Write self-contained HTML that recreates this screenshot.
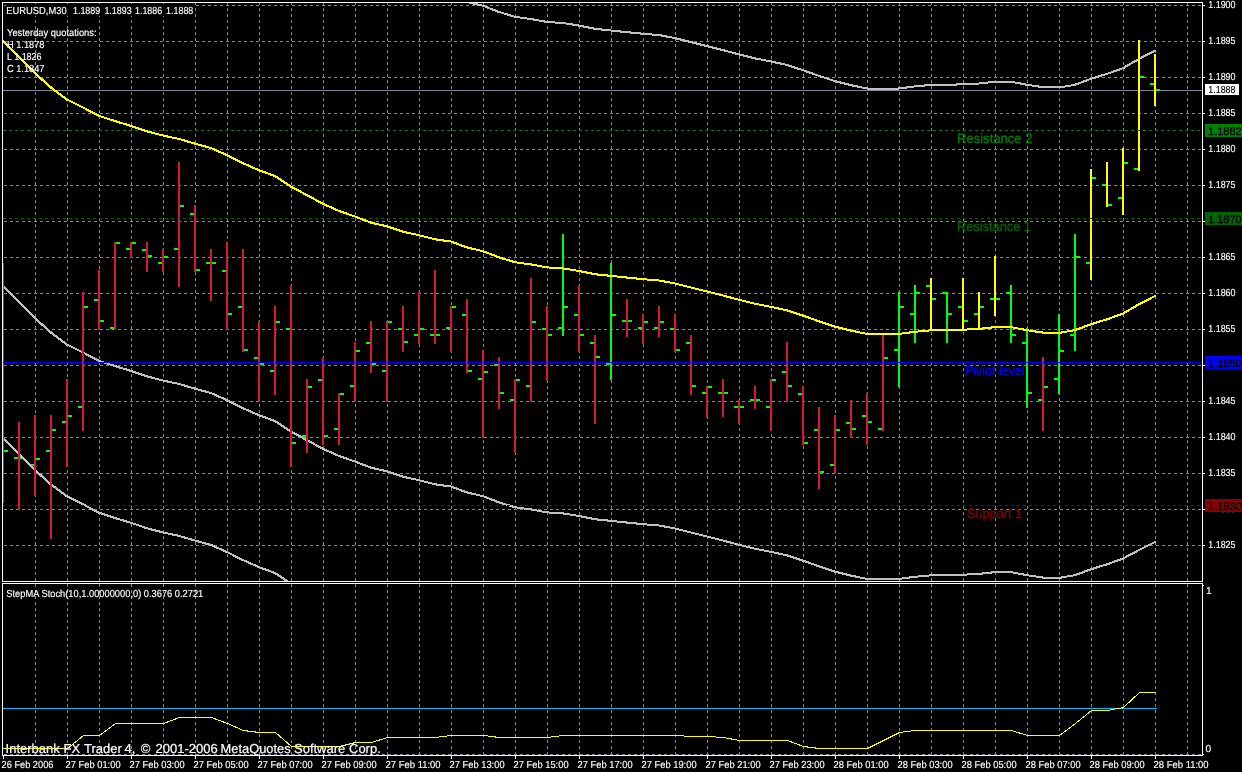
<!DOCTYPE html>
<html lang="en"><head><meta charset="utf-8"><title>EURUSD,M30</title>
<style>
html,body{margin:0;padding:0;background:#000;overflow:hidden}
svg{display:block}
text{font-family:"Liberation Sans",sans-serif;white-space:pre;text-rendering:geometricPrecision}
.s{font-size:10.2px;fill:#fff;stroke:#fff;stroke-width:.15px;text-rendering:geometricPrecision}
.m{font-size:13.6px;stroke-width:.3px}
.b{font-size:11px;fill:#000;stroke:#000;stroke-width:.3px}
</style></head><body>
<svg width="1242" height="772" viewBox="0 0 1242 772">
<rect width="1242" height="772" fill="#000"/>
<defs><clipPath id="cm"><rect x="3" y="3" width="1199" height="578"/></clipPath><clipPath id="cs"><rect x="3" y="584" width="1199" height="171"/></clipPath></defs>
<g stroke="#778899" stroke-width="1" stroke-dasharray="3 3" shape-rendering="crispEdges" fill="none">
<path d="M4 5.5H1202"/>
<path d="M4 41.5H1202"/>
<path d="M4 77.5H1202"/>
<path d="M4 113.5H1202"/>
<path d="M4 149.5H1202"/>
<path d="M4 185.5H1202"/>
<path d="M4 221.5H1202"/>
<path d="M4 257.5H1202"/>
<path d="M4 293.5H1202"/>
<path d="M4 329.5H1202"/>
<path d="M4 365.5H1202"/>
<path d="M4 401.5H1202"/>
<path d="M4 437.5H1202"/>
<path d="M4 473.5H1202"/>
<path d="M4 509.5H1202"/>
<path d="M4 545.5H1202"/>
<path d="M35.5 2V581"/>
<path d="M35.5 584V755"/>
<path d="M67.5 2V581"/>
<path d="M67.5 584V755"/>
<path d="M99.5 2V581"/>
<path d="M99.5 584V755"/>
<path d="M131.5 2V581"/>
<path d="M131.5 584V755"/>
<path d="M163.5 2V581"/>
<path d="M163.5 584V755"/>
<path d="M195.5 2V581"/>
<path d="M195.5 584V755"/>
<path d="M227.5 2V581"/>
<path d="M227.5 584V755"/>
<path d="M259.5 2V581"/>
<path d="M259.5 584V755"/>
<path d="M291.5 2V581"/>
<path d="M291.5 584V755"/>
<path d="M323.5 2V581"/>
<path d="M323.5 584V755"/>
<path d="M355.5 2V581"/>
<path d="M355.5 584V755"/>
<path d="M387.5 2V581"/>
<path d="M387.5 584V755"/>
<path d="M419.5 2V581"/>
<path d="M419.5 584V755"/>
<path d="M451.5 2V581"/>
<path d="M451.5 584V755"/>
<path d="M483.5 2V581"/>
<path d="M483.5 584V755"/>
<path d="M515.5 2V581"/>
<path d="M515.5 584V755"/>
<path d="M547.5 2V581"/>
<path d="M547.5 584V755"/>
<path d="M579.5 2V581"/>
<path d="M579.5 584V755"/>
<path d="M611.5 2V581"/>
<path d="M611.5 584V755"/>
<path d="M643.5 2V581"/>
<path d="M643.5 584V755"/>
<path d="M675.5 2V581"/>
<path d="M675.5 584V755"/>
<path d="M707.5 2V581"/>
<path d="M707.5 584V755"/>
<path d="M739.5 2V581"/>
<path d="M739.5 584V755"/>
<path d="M771.5 2V581"/>
<path d="M771.5 584V755"/>
<path d="M803.5 2V581"/>
<path d="M803.5 584V755"/>
<path d="M835.5 2V581"/>
<path d="M835.5 584V755"/>
<path d="M867.5 2V581"/>
<path d="M867.5 584V755"/>
<path d="M899.5 2V581"/>
<path d="M899.5 584V755"/>
<path d="M931.5 2V581"/>
<path d="M931.5 584V755"/>
<path d="M963.5 2V581"/>
<path d="M963.5 584V755"/>
<path d="M995.5 2V581"/>
<path d="M995.5 584V755"/>
<path d="M1027.5 2V581"/>
<path d="M1027.5 584V755"/>
<path d="M1059.5 2V581"/>
<path d="M1059.5 584V755"/>
<path d="M1091.5 2V581"/>
<path d="M1091.5 584V755"/>
<path d="M1123.5 2V581"/>
<path d="M1123.5 584V755"/>
<path d="M1155.5 2V581"/>
<path d="M1155.5 584V755"/>
<path d="M1187.5 2V581"/>
<path d="M1187.5 584V755"/>
<path d="M4 754.5H1202"/>
</g>
<path d="M3 90.5H1202" stroke="#778899" stroke-width="1" shape-rendering="crispEdges"/>
<g shape-rendering="crispEdges" clip-path="url(#cm)">
<path fill="#00FF00" d="M4 450h4v2h-4zM14 457h4v2h-4zM20 457h4v2h-4zM30 464h4v2h-4zM36 458h4v2h-4zM46 450h4v2h-4zM52 429h4v2h-4zM62 421h4v2h-4zM68 415h4v2h-4zM78 406h4v2h-4zM84 306h4v2h-4zM94 299h4v2h-4zM100 320h4v2h-4zM110 327h4v2h-4zM116 242h4v2h-4zM126 248h4v2h-4zM132 242h4v2h-4zM142 249h4v2h-4zM148 255h4v2h-4zM158 262h4v2h-4zM164 256h4v2h-4zM174 248h4v2h-4zM180 205h4v2h-4zM190 213h4v2h-4zM196 269h4v2h-4zM206 262h4v2h-4zM212 262h4v2h-4zM222 270h4v2h-4zM228 313h4v2h-4zM238 306h4v2h-4zM244 349h4v2h-4zM254 357h4v2h-4zM260 363h4v2h-4zM270 370h4v2h-4zM276 321h4v2h-4zM286 328h4v2h-4zM292 442h4v2h-4zM302 435h4v2h-4zM308 386h4v2h-4zM318 379h4v2h-4zM324 435h4v2h-4zM334 428h4v2h-4zM340 393h4v2h-4zM350 385h4v2h-4zM356 350h4v2h-4zM366 342h4v2h-4zM372 363h4v2h-4zM382 370h4v2h-4zM388 321h4v2h-4zM398 328h4v2h-4zM404 341h4v2h-4zM414 334h4v2h-4zM420 328h4v2h-4zM430 334h4v2h-4zM436 334h4v2h-4zM446 327h4v2h-4zM452 306h4v2h-4zM462 314h4v2h-4zM468 370h4v2h-4zM478 378h4v2h-4zM484 371h4v2h-4zM494 364h4v2h-4zM500 392h4v2h-4zM510 399h4v2h-4zM516 379h4v2h-4zM526 385h4v2h-4zM532 321h4v2h-4zM542 328h4v2h-4zM548 334h4v2h-4zM558 327h4v2h-4zM564 306h4v2h-4zM574 314h4v2h-4zM580 334h4v2h-4zM590 342h4v2h-4zM596 356h4v2h-4zM606 363h4v2h-4zM612 314h4v2h-4zM622 320h4v2h-4zM628 320h4v2h-4zM638 327h4v2h-4zM644 321h4v2h-4zM654 327h4v2h-4zM660 321h4v2h-4zM670 328h4v2h-4zM676 349h4v2h-4zM686 342h4v2h-4zM692 385h4v2h-4zM702 392h4v2h-4zM708 386h4v2h-4zM718 392h4v2h-4zM724 392h4v2h-4zM734 406h4v2h-4zM740 406h4v2h-4zM750 399h4v2h-4zM756 399h4v2h-4zM766 406h4v2h-4zM772 379h4v2h-4zM782 371h4v2h-4zM788 385h4v2h-4zM798 393h4v2h-4zM804 442h4v2h-4zM814 429h4v2h-4zM820 471h4v2h-4zM830 464h4v2h-4zM836 429h4v2h-4zM846 422h4v2h-4zM852 428h4v2h-4zM862 415h4v2h-4zM868 421h4v2h-4zM878 428h4v2h-4zM884 357h4v2h-4zM894 349h4v2h-4zM900 306h4v2h-4zM910 313h4v2h-4zM916 292h4v2h-4zM926 285h4v2h-4zM932 298h4v2h-4zM942 292h4v2h-4zM948 313h4v2h-4zM958 306h4v2h-4zM964 320h4v2h-4zM974 313h4v2h-4zM980 306h4v2h-4zM990 298h4v2h-4zM996 298h4v2h-4zM1006 292h4v2h-4zM1012 334h4v2h-4zM1022 342h4v2h-4zM1028 392h4v2h-4zM1038 399h4v2h-4zM1044 386h4v2h-4zM1054 378h4v2h-4zM1060 350h4v2h-4zM1070 334h4v2h-4zM1076 256h4v2h-4zM1086 262h4v2h-4zM1092 177h4v2h-4zM1102 184h4v2h-4zM1108 204h4v2h-4zM1118 197h4v2h-4zM1124 162h4v2h-4zM1134 168h4v2h-4zM1140 76h4v2h-4zM1150 83h4v2h-4zM1156 89h4v2h-4z"/>
</g>
<g fill="none" stroke-linecap="round" shape-rendering="crispEdges" clip-path="url(#cm)">
<g stroke="#C0C0C0"><path stroke-width="2.04" d="M435 -6.1L451 -3.85"/><path stroke-width="2.11" d="M451 -3.85L467 2.0"/><path stroke-width="2.07" d="M467 2.0L483 5.78"/><path stroke-width="2.12" d="M483 5.78L499 11.95"/><path stroke-width="2.09" d="M499 11.95L515 16.85"/><path stroke-width="2.04" d="M515 16.85L531 19.05"/><path stroke-width="2.05" d="M531 19.05L547 21.98"/><path stroke-width="2.02" d="M547 21.98L563 23.02"/><path stroke-width="2.05" d="M563 23.02L579 25.58"/><path stroke-width="2.06" d="M579 25.58L595 28.85"/><path stroke-width="2.03" d="M595 28.85L611 30.48"/><path stroke-width="2.03" d="M611 30.48L627 32.18"/><path stroke-width="2.03" d="M627 32.18L643 33.75"/><path stroke-width="2.02" d="M643 33.75L659 35.08"/><path stroke-width="2.06" d="M659 35.08L675 38.08"/><path stroke-width="2.08" d="M675 38.08L691 42.15"/><path stroke-width="2.07" d="M691 42.15L707 46.08"/><path stroke-width="2.08" d="M707 46.08L723 50.12"/><path stroke-width="2.08" d="M723 50.12L739 54.42"/><path stroke-width="2.07" d="M739 54.42L755 58.38"/><path stroke-width="2.06" d="M755 58.38L771 61.45"/><path stroke-width="2.07" d="M771 61.45L787 65.0"/><path stroke-width="2.10" d="M787 65.0L803 70.2"/><path stroke-width="2.11" d="M803 70.2L819 75.9"/><path stroke-width="2.10" d="M819 75.9L835 81.2"/><path stroke-width="2.08" d="M835 81.2L851 85.2"/><path stroke-width="2.06" d="M851 85.2L867 88.5"/><path stroke-width="2.01" d="M867 88.5L883 88.8"/><path stroke-width="2.01" d="M883 88.8L899 88.5"/><path stroke-width="2.04" d="M899 88.5L915 86.4"/><path stroke-width="2.03" d="M915 86.4L931 84.9"/><path stroke-width="2.00" d="M931 84.9L947 84.8"/><path stroke-width="2.01" d="M947 84.8L963 84.3"/><path stroke-width="2.02" d="M963 84.3L979 83.5"/><path stroke-width="2.03" d="M979 83.5L995 81.7"/><path stroke-width="2.00" d="M995 81.7L1011 81.7"/><path stroke-width="2.06" d="M1011 81.7L1027 84.8"/><path stroke-width="2.04" d="M1027 84.8L1043 87.2"/><path stroke-width="2.01" d="M1043 87.2L1059 87.5"/><path stroke-width="2.05" d="M1059 87.5L1075 84.8"/><path stroke-width="2.11" d="M1075 84.8L1091 78.8"/><path stroke-width="2.09" d="M1091 78.8L1107 73.9"/><path stroke-width="2.11" d="M1107 73.9L1123 68.2"/><path stroke-width="2.17" d="M1123 68.2L1139 58.9"/><path stroke-width="2.16" d="M1139 58.9L1155 50.6"/></g>
<g stroke="#C0C0C0"><path stroke-width="2.30" d="M3 285.75L19 302.22"/><path stroke-width="2.30" d="M19 302.22L35 318.22"/><path stroke-width="2.27" d="M35 318.22L51 332.52"/><path stroke-width="2.23" d="M51 332.52L67 344.52"/><path stroke-width="2.15" d="M67 344.52L83 352.48"/><path stroke-width="2.16" d="M83 352.48L99 360.85"/><path stroke-width="2.10" d="M99 360.85L115 366.08"/><path stroke-width="2.09" d="M115 366.08L131 370.92"/><path stroke-width="2.10" d="M131 370.92L147 376.35"/><path stroke-width="2.08" d="M147 376.35L163 380.55"/><path stroke-width="2.06" d="M163 380.55L179 383.98"/><path stroke-width="2.09" d="M179 383.98L195 388.62"/><path stroke-width="2.08" d="M195 388.62L211 393.1"/><path stroke-width="2.13" d="M211 393.1L227 400.12"/><path stroke-width="2.15" d="M227 400.12L243 408.2"/><path stroke-width="2.13" d="M243 408.2L259 415.25"/><path stroke-width="2.11" d="M259 415.25L275 421.08"/><path stroke-width="2.20" d="M275 421.08L291 431.65"/><path stroke-width="2.16" d="M291 431.65L307 440.15"/><path stroke-width="2.16" d="M307 440.15L323 448.9"/><path stroke-width="2.13" d="M323 448.9L339 455.95"/><path stroke-width="2.11" d="M339 455.95L355 461.55"/><path stroke-width="2.11" d="M355 461.55L371 467.65"/><path stroke-width="2.07" d="M371 467.65L387 471.3"/><path stroke-width="2.10" d="M387 471.3L403 476.75"/><path stroke-width="2.06" d="M403 476.75L419 480.2"/><path stroke-width="2.08" d="M419 480.2L435 484.3"/><path stroke-width="2.04" d="M435 484.3L451 486.55"/><path stroke-width="2.11" d="M451 486.55L467 492.4"/><path stroke-width="2.07" d="M467 492.4L483 496.18"/><path stroke-width="2.12" d="M483 496.18L499 502.35"/><path stroke-width="2.09" d="M499 502.35L515 507.25"/><path stroke-width="2.04" d="M515 507.25L531 509.45"/><path stroke-width="2.05" d="M531 509.45L547 512.38"/><path stroke-width="2.02" d="M547 512.38L563 513.42"/><path stroke-width="2.05" d="M563 513.42L579 515.98"/><path stroke-width="2.06" d="M579 515.98L595 519.25"/><path stroke-width="2.03" d="M595 519.25L611 520.88"/><path stroke-width="2.03" d="M611 520.88L627 522.58"/><path stroke-width="2.03" d="M627 522.58L643 524.15"/><path stroke-width="2.02" d="M643 524.15L659 525.48"/><path stroke-width="2.06" d="M659 525.48L675 528.48"/><path stroke-width="2.08" d="M675 528.48L691 532.55"/><path stroke-width="2.07" d="M691 532.55L707 536.48"/><path stroke-width="2.08" d="M707 536.48L723 540.52"/><path stroke-width="2.08" d="M723 540.52L739 544.82"/><path stroke-width="2.07" d="M739 544.82L755 548.78"/><path stroke-width="2.06" d="M755 548.78L771 551.85"/><path stroke-width="2.07" d="M771 551.85L787 555.4"/><path stroke-width="2.10" d="M787 555.4L803 560.6"/><path stroke-width="2.11" d="M803 560.6L819 566.3"/><path stroke-width="2.10" d="M819 566.3L835 571.6"/><path stroke-width="2.08" d="M835 571.6L851 575.6"/><path stroke-width="2.06" d="M851 575.6L867 578.9"/><path stroke-width="2.01" d="M867 578.9L883 579.2"/><path stroke-width="2.01" d="M883 579.2L899 578.9"/><path stroke-width="2.04" d="M899 578.9L915 576.8"/><path stroke-width="2.03" d="M915 576.8L931 575.3"/><path stroke-width="2.00" d="M931 575.3L947 575.2"/><path stroke-width="2.01" d="M947 575.2L963 574.7"/><path stroke-width="2.02" d="M963 574.7L979 573.9"/><path stroke-width="2.03" d="M979 573.9L995 572.1"/><path stroke-width="2.00" d="M995 572.1L1011 572.1"/><path stroke-width="2.06" d="M1011 572.1L1027 575.2"/><path stroke-width="2.04" d="M1027 575.2L1043 577.6"/><path stroke-width="2.01" d="M1043 577.6L1059 577.9"/><path stroke-width="2.05" d="M1059 577.9L1075 575.2"/><path stroke-width="2.11" d="M1075 575.2L1091 569.2"/><path stroke-width="2.09" d="M1091 569.2L1107 564.3"/><path stroke-width="2.11" d="M1107 564.3L1123 558.6"/><path stroke-width="2.16" d="M1123 558.6L1139 550.0"/><path stroke-width="2.15" d="M1139 550.0L1155 542.0"/></g>
<g stroke="#C0C0C0"><path stroke-width="2.30" d="M3 437.65L19 454.12"/><path stroke-width="2.30" d="M19 454.12L35 470.12"/><path stroke-width="2.27" d="M35 470.12L51 484.42"/><path stroke-width="2.23" d="M51 484.42L67 496.42"/><path stroke-width="2.15" d="M67 496.42L83 504.38"/><path stroke-width="2.16" d="M83 504.38L99 512.75"/><path stroke-width="2.10" d="M99 512.75L115 517.98"/><path stroke-width="2.09" d="M115 517.98L131 522.82"/><path stroke-width="2.10" d="M131 522.82L147 528.25"/><path stroke-width="2.08" d="M147 528.25L163 532.45"/><path stroke-width="2.06" d="M163 532.45L179 535.88"/><path stroke-width="2.09" d="M179 535.88L195 540.52"/><path stroke-width="2.08" d="M195 540.52L211 545.0"/><path stroke-width="2.13" d="M211 545.0L227 552.02"/><path stroke-width="2.15" d="M227 552.02L243 560.1"/><path stroke-width="2.13" d="M243 560.1L259 567.15"/><path stroke-width="2.11" d="M259 567.15L275 572.98"/><path stroke-width="2.20" d="M275 572.98L291 583.55"/><path stroke-width="2.16" d="M291 583.55L307 592.05"/></g>
</g>
<g shape-rendering="crispEdges" clip-path="url(#cm)">
<path fill="#DC143C" d="M2 263h2v240h-2zM18 422h2v88h-2zM34 415h2v81h-2zM50 415h2v124h-2zM66 379h2v88h-2zM82 292h2v139h-2zM98 270h2v60h-2zM114 242h2v88h-2zM130 242h2v16h-2zM146 242h2v30h-2zM162 249h2v23h-2zM178 162h2v125h-2zM194 205h2v67h-2zM210 249h2v52h-2zM226 242h2v88h-2zM242 249h2v103h-2zM258 321h2v81h-2zM274 306h2v89h-2zM290 285h2v182h-2zM306 379h2v74h-2zM322 357h2v88h-2zM338 393h2v52h-2zM354 342h2v60h-2zM370 321h2v52h-2zM386 321h2v81h-2zM402 306h2v46h-2zM418 292h2v52h-2zM434 270h2v74h-2zM450 306h2v46h-2zM466 299h2v74h-2zM482 350h2v88h-2zM498 357h2v52h-2zM514 379h2v74h-2zM530 278h2v124h-2zM546 306h2v75h-2zM578 285h2v67h-2zM594 335h2v89h-2zM626 299h2v38h-2zM642 314h2v30h-2zM658 306h2v31h-2zM674 314h2v38h-2zM690 335h2v60h-2zM706 386h2v31h-2zM722 379h2v38h-2zM738 400h2v24h-2zM754 386h2v23h-2zM770 379h2v52h-2zM786 342h2v60h-2zM802 386h2v59h-2zM818 407h2v82h-2zM834 415h2v59h-2zM850 400h2v38h-2zM866 393h2v52h-2zM882 335h2v96h-2zM1042 357h2v74h-2z"/>
<path fill="#00FF00" d="M562 234h2v102h-2zM610 263h2v117h-2zM898 292h2v95h-2zM914 285h2v58h-2zM946 292h2v51h-2zM1010 285h2v58h-2zM1026 328h2v80h-2zM1058 314h2v80h-2zM1074 234h2v117h-2z"/>
<path fill="#FFFF00" d="M930 278h2v53h-2zM962 278h2v53h-2zM978 292h2v38h-2zM994 256h2v60h-2zM1090 169h2v111h-2zM1106 162h2v45h-2zM1122 148h2v67h-2zM1138 40h2v131h-2zM1154 54h2v52h-2z"/>
</g>
<g shape-rendering="crispEdges" fill="none" stroke-width="1">
<path d="M3 130.5H1202" stroke="#008000" stroke-dasharray="3 3"/>
<path d="M3 218.5H1202" stroke="#006400" stroke-dasharray="3 3"/>
<path d="M3 505.5H1202" stroke="#8B0000" stroke-dasharray="3 3"/>
</g>
<path d="M3 362.5H1202" stroke="#0000FF" stroke-width="1" shape-rendering="crispEdges"/>
<g fill="none" stroke-linecap="round" shape-rendering="crispEdges" clip-path="url(#cm)">
<g stroke="#FFFF00"><path stroke-width="2.30" d="M3 40.75L19 57.22"/><path stroke-width="2.30" d="M19 57.22L35 73.22"/><path stroke-width="2.27" d="M35 73.22L51 87.52"/><path stroke-width="2.23" d="M51 87.52L67 99.52"/><path stroke-width="2.15" d="M67 99.52L83 107.48"/><path stroke-width="2.16" d="M83 107.48L99 115.85"/><path stroke-width="2.10" d="M99 115.85L115 121.08"/><path stroke-width="2.09" d="M115 121.08L131 125.92"/><path stroke-width="2.10" d="M131 125.92L147 131.35"/><path stroke-width="2.08" d="M147 131.35L163 135.55"/><path stroke-width="2.06" d="M163 135.55L179 138.98"/><path stroke-width="2.09" d="M179 138.98L195 143.62"/><path stroke-width="2.08" d="M195 143.62L211 148.1"/><path stroke-width="2.13" d="M211 148.1L227 155.12"/><path stroke-width="2.15" d="M227 155.12L243 163.2"/><path stroke-width="2.13" d="M243 163.2L259 170.25"/><path stroke-width="2.11" d="M259 170.25L275 176.08"/><path stroke-width="2.20" d="M275 176.08L291 186.65"/><path stroke-width="2.16" d="M291 186.65L307 195.15"/><path stroke-width="2.16" d="M307 195.15L323 203.9"/><path stroke-width="2.13" d="M323 203.9L339 210.95"/><path stroke-width="2.11" d="M339 210.95L355 216.55"/><path stroke-width="2.11" d="M355 216.55L371 222.65"/><path stroke-width="2.07" d="M371 222.65L387 226.3"/><path stroke-width="2.10" d="M387 226.3L403 231.75"/><path stroke-width="2.06" d="M403 231.75L419 235.2"/><path stroke-width="2.08" d="M419 235.2L435 239.3"/><path stroke-width="2.04" d="M435 239.3L451 241.55"/><path stroke-width="2.11" d="M451 241.55L467 247.4"/><path stroke-width="2.07" d="M467 247.4L483 251.18"/><path stroke-width="2.12" d="M483 251.18L499 257.35"/><path stroke-width="2.09" d="M499 257.35L515 262.25"/><path stroke-width="2.04" d="M515 262.25L531 264.45"/><path stroke-width="2.05" d="M531 264.45L547 267.38"/><path stroke-width="2.02" d="M547 267.38L563 268.42"/><path stroke-width="2.05" d="M563 268.42L579 270.98"/><path stroke-width="2.06" d="M579 270.98L595 274.25"/><path stroke-width="2.03" d="M595 274.25L611 275.88"/><path stroke-width="2.03" d="M611 275.88L627 277.58"/><path stroke-width="2.03" d="M627 277.58L643 279.15"/><path stroke-width="2.02" d="M643 279.15L659 280.48"/><path stroke-width="2.06" d="M659 280.48L675 283.48"/><path stroke-width="2.08" d="M675 283.48L691 287.55"/><path stroke-width="2.07" d="M691 287.55L707 291.48"/><path stroke-width="2.08" d="M707 291.48L723 295.52"/><path stroke-width="2.08" d="M723 295.52L739 299.82"/><path stroke-width="2.07" d="M739 299.82L755 303.78"/><path stroke-width="2.06" d="M755 303.78L771 306.85"/><path stroke-width="2.07" d="M771 306.85L787 310.4"/><path stroke-width="2.10" d="M787 310.4L803 315.6"/><path stroke-width="2.11" d="M803 315.6L819 321.3"/><path stroke-width="2.10" d="M819 321.3L835 326.6"/><path stroke-width="2.08" d="M835 326.6L851 330.6"/><path stroke-width="2.06" d="M851 330.6L867 333.9"/><path stroke-width="2.01" d="M867 333.9L883 334.2"/><path stroke-width="2.01" d="M883 334.2L899 333.9"/><path stroke-width="2.04" d="M899 333.9L915 331.8"/><path stroke-width="2.03" d="M915 331.8L931 330.3"/><path stroke-width="2.00" d="M931 330.3L947 330.2"/><path stroke-width="2.01" d="M947 330.2L963 329.7"/><path stroke-width="2.02" d="M963 329.7L979 328.9"/><path stroke-width="2.03" d="M979 328.9L995 327.1"/><path stroke-width="2.00" d="M995 327.1L1011 327.1"/><path stroke-width="2.06" d="M1011 327.1L1027 330.2"/><path stroke-width="2.05" d="M1027 330.2L1043 332.6"/><path stroke-width="2.01" d="M1043 332.6L1059 332.9"/><path stroke-width="2.05" d="M1059 332.9L1075 330.2"/><path stroke-width="2.11" d="M1075 330.2L1091 324.2"/><path stroke-width="2.09" d="M1091 324.2L1107 319.3"/><path stroke-width="2.11" d="M1107 319.3L1123 313.6"/><path stroke-width="2.17" d="M1123 313.6L1139 304.3"/><path stroke-width="2.16" d="M1139 304.3L1155 296.0"/></g>
</g>
<g fill="none" stroke-width="1" stroke-linecap="square" shape-rendering="crispEdges" clip-path="url(#cs)">
<path d="M3 708.5H1156" stroke="#00BFFF"/>
<polyline stroke="#FFFF00" points="3.5,748.5 19.5,748.5 35.5,748.5 51.5,748.5 67.5,748.5 83.5,735.5 99.5,735.5 115.5,723.5 131.5,723.5 147.5,723.5 163.5,723.5 179.5,717.5 195.5,717.5 211.5,717.5 227.5,723.5 243.5,730.5 259.5,732.5 275.5,732.5 291.5,746.5 307.5,746.5 323.5,746.5 339.5,746.5 355.5,742.5 371.5,742.5 387.5,737.5 403.5,737.5 419.5,737.5 435.5,737.5 451.5,735.5 467.5,735.5 483.5,735.5 499.5,737.5 515.5,737.5 531.5,737.5 547.5,737.5 563.5,735.5 579.5,735.5 595.5,735.5 611.5,735.5 627.5,735.5 643.5,735.5 659.5,735.5 675.5,735.5 691.5,736.5 707.5,736.5 723.5,737.5 739.5,740.5 755.5,740.5 771.5,740.5 787.5,740.5 803.5,746.5 819.5,748.5 835.5,748.5 851.5,748.5 867.5,748.5 883.5,740.5 899.5,732.5 915.5,730.5 931.5,730.5 947.5,730.5 963.5,730.5 979.5,730.5 995.5,730.5 1011.5,730.5 1027.5,735.5 1043.5,735.5 1059.5,735.5 1075.5,723.5 1091.5,710.5 1107.5,710.5 1123.5,707.5 1139.5,692.5 1155.5,692.5"/>
</g>
<g fill="none" stroke="#fff" stroke-width="1" shape-rendering="crispEdges">
<path d="M2.5 581.5V2.5H1202.5V581.5H2.5"/>
<path d="M2.5 755.5V583.5H1202.5V755.5H2.5"/>
<path d="M1203 5.5h2M1203 41.5h2M1203 77.5h2M1203 113.5h2M1203 149.5h2M1203 185.5h2M1203 221.5h2M1203 257.5h2M1203 293.5h2M1203 329.5h2M1203 365.5h2M1203 401.5h2M1203 437.5h2M1203 473.5h2M1203 509.5h2M1203 545.5h2M1203 585.5h1M1203 754.5h1M3.5 756v3M67.5 756v3M131.5 756v3M195.5 756v3M259.5 756v3M323.5 756v3M387.5 756v3M451.5 756v3M515.5 756v3M579.5 756v3M643.5 756v3M707.5 756v3M771.5 756v3M835.5 756v3M899.5 756v3M963.5 756v3M1027.5 756v3M1091.5 756v3M1155.5 756v3"/>
</g>
<g class="s">
<text x="1208.3" y="8" textLength="27.2" lengthAdjust="spacingAndGlyphs">1.1900</text>
<text x="1208.3" y="44" textLength="27.2" lengthAdjust="spacingAndGlyphs">1.1895</text>
<text x="1208.3" y="80" textLength="27.2" lengthAdjust="spacingAndGlyphs">1.1890</text>
<text x="1208.3" y="116" textLength="27.2" lengthAdjust="spacingAndGlyphs">1.1885</text>
<text x="1208.3" y="152" textLength="27.2" lengthAdjust="spacingAndGlyphs">1.1880</text>
<text x="1208.3" y="188" textLength="27.2" lengthAdjust="spacingAndGlyphs">1.1875</text>
<text x="1208.3" y="224" textLength="27.2" lengthAdjust="spacingAndGlyphs">1.1870</text>
<text x="1208.3" y="260" textLength="27.2" lengthAdjust="spacingAndGlyphs">1.1865</text>
<text x="1208.3" y="296" textLength="27.2" lengthAdjust="spacingAndGlyphs">1.1860</text>
<text x="1208.3" y="332" textLength="27.2" lengthAdjust="spacingAndGlyphs">1.1855</text>
<text x="1208.3" y="368" textLength="27.2" lengthAdjust="spacingAndGlyphs">1.1850</text>
<text x="1208.3" y="404" textLength="27.2" lengthAdjust="spacingAndGlyphs">1.1845</text>
<text x="1208.3" y="440" textLength="27.2" lengthAdjust="spacingAndGlyphs">1.1840</text>
<text x="1208.3" y="476" textLength="27.2" lengthAdjust="spacingAndGlyphs">1.1835</text>
<text x="1208.3" y="512" textLength="27.2" lengthAdjust="spacingAndGlyphs">1.1830</text>
<text x="1208.3" y="548" textLength="27.2" lengthAdjust="spacingAndGlyphs">1.1825</text>
<text x="1206" y="594">1</text>
<text x="1205.5" y="752">0</text>
<text x="1.6" y="768" textLength="51.8" lengthAdjust="spacingAndGlyphs">26 Feb 2006</text>
<text x="65.6" y="768" textLength="55" lengthAdjust="spacingAndGlyphs">27 Feb 01:00</text>
<text x="129.6" y="768" textLength="55" lengthAdjust="spacingAndGlyphs">27 Feb 03:00</text>
<text x="193.6" y="768" textLength="55" lengthAdjust="spacingAndGlyphs">27 Feb 05:00</text>
<text x="257.6" y="768" textLength="55" lengthAdjust="spacingAndGlyphs">27 Feb 07:00</text>
<text x="321.6" y="768" textLength="55" lengthAdjust="spacingAndGlyphs">27 Feb 09:00</text>
<text x="385.6" y="768" textLength="55" lengthAdjust="spacingAndGlyphs">27 Feb 11:00</text>
<text x="449.6" y="768" textLength="55" lengthAdjust="spacingAndGlyphs">27 Feb 13:00</text>
<text x="513.6" y="768" textLength="55" lengthAdjust="spacingAndGlyphs">27 Feb 15:00</text>
<text x="577.6" y="768" textLength="55" lengthAdjust="spacingAndGlyphs">27 Feb 17:00</text>
<text x="641.6" y="768" textLength="55" lengthAdjust="spacingAndGlyphs">27 Feb 19:00</text>
<text x="705.6" y="768" textLength="55" lengthAdjust="spacingAndGlyphs">27 Feb 21:00</text>
<text x="769.6" y="768" textLength="55" lengthAdjust="spacingAndGlyphs">27 Feb 23:00</text>
<text x="833.6" y="768" textLength="55" lengthAdjust="spacingAndGlyphs">28 Feb 01:00</text>
<text x="897.6" y="768" textLength="55" lengthAdjust="spacingAndGlyphs">28 Feb 03:00</text>
<text x="961.6" y="768" textLength="55" lengthAdjust="spacingAndGlyphs">28 Feb 05:00</text>
<text x="1025.6" y="768" textLength="55" lengthAdjust="spacingAndGlyphs">28 Feb 07:00</text>
<text x="1089.6" y="768" textLength="55" lengthAdjust="spacingAndGlyphs">28 Feb 09:00</text>
<text x="1153.6" y="768" textLength="55" lengthAdjust="spacingAndGlyphs">28 Feb 11:00</text>
<rect x="6" y="4" width="189" height="12" fill="#000" stroke="none"/>
<text y="14"><tspan x="6.3" textLength="60.4" lengthAdjust="spacingAndGlyphs">EURUSD,M30</tspan> <tspan x="73" textLength="27.2" lengthAdjust="spacingAndGlyphs">1.1889</tspan> <tspan x="104.4" textLength="27.2" lengthAdjust="spacingAndGlyphs">1.1893</tspan> <tspan x="135" textLength="27.2" lengthAdjust="spacingAndGlyphs">1.1886</tspan> <tspan x="166.1" textLength="27.2" lengthAdjust="spacingAndGlyphs">1.1888</tspan></text>
<text x="7" y="36" textLength="89.6" lengthAdjust="spacingAndGlyphs">Yesterday quotations:</text>
<text x="7" y="48" textLength="37.4" lengthAdjust="spacingAndGlyphs">H 1.1878</text>
<text x="7" y="60" textLength="34.6" lengthAdjust="spacingAndGlyphs">L 1.1826</text>
<text x="7" y="72" textLength="37.4" lengthAdjust="spacingAndGlyphs">C 1.1847</text>
<text x="6.3" y="597" textLength="197" lengthAdjust="spacingAndGlyphs">StepMA Stoch(10,1.00000000,0) 0.3676 0.2721</text>
</g>
<g shape-rendering="crispEdges">
<rect x="1205" y="84" width="34" height="11" fill="#fff"/>
<rect x="1205" y="124" width="37" height="13" fill="#008000"/>
<rect x="1205" y="212" width="37" height="13" fill="#006400"/>
<rect x="1205" y="356" width="37" height="13" fill="#0000FF"/>
<rect x="1205" y="499" width="37" height="13" fill="#8B0000"/>
</g>
<text class="s" style="fill:#000;stroke:#000" x="1208.3" y="93" textLength="27.2" lengthAdjust="spacingAndGlyphs">1.1888</text>
<g class="b">
<text x="1208.1" y="135" textLength="33.5" lengthAdjust="spacingAndGlyphs">1.1882</text>
<text x="1208.1" y="223" textLength="33.5" lengthAdjust="spacingAndGlyphs">1.1870</text>
<text x="1208.1" y="367" textLength="33.5" lengthAdjust="spacingAndGlyphs">1.1850</text>
<text x="1208.1" y="510" textLength="33.5" lengthAdjust="spacingAndGlyphs">1.1830</text>
</g>
<g class="m">
<text x="957" y="143" fill="#008000" stroke="#008000" textLength="75.5" lengthAdjust="spacingAndGlyphs">Resistance 2</text>
<text x="957" y="231" fill="#006400" stroke="#006400" textLength="74" lengthAdjust="spacingAndGlyphs">Resistance 1</text>
<text x="965" y="375" fill="#0000FF" stroke="#0000FF" textLength="59.5" lengthAdjust="spacingAndGlyphs">Piviot level</text>
<text x="967" y="518" fill="#8B0000" stroke="#8B0000" textLength="55" lengthAdjust="spacingAndGlyphs">Support 1</text>
<text y="753" fill="#fff" stroke="#fff" style="font-size:13px;stroke-width:.2px"><tspan x="5.6">Interbank </tspan><tspan x="63.6">FX </tspan><tspan x="84">Trader </tspan><tspan x="124.6">4, </tspan><tspan x="140.8">© </tspan><tspan x="155.6">2001-2006 </tspan><tspan x="220.6" textLength="70" lengthAdjust="spacingAndGlyphs">MetaQuotes</tspan><tspan> </tspan><tspan x="294">Software </tspan><tspan x="349">Corp.</tspan></text>
</g>
</svg></body></html>
